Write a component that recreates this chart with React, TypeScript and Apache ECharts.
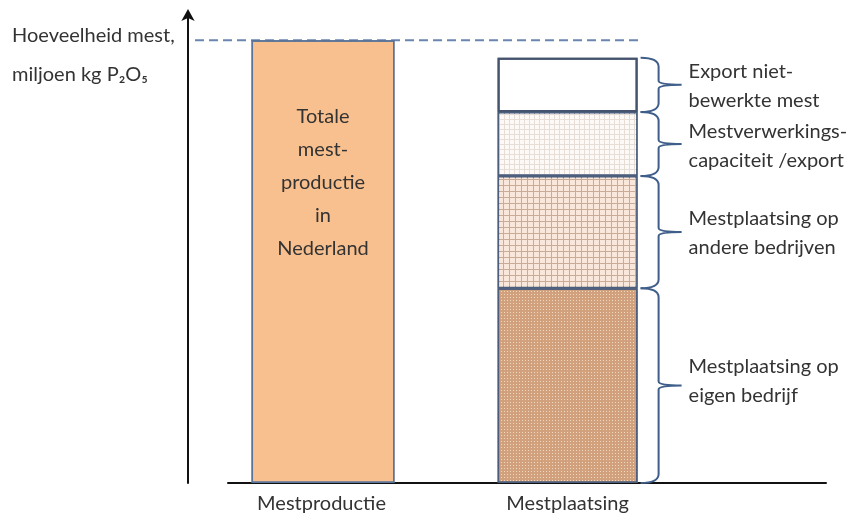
import React, { useEffect, useRef } from "react";
import * as echarts from "echarts";

// ---- data ----
const categories = ["Mestproductie", "Mestplaatsing"];
const categoryPositions = [1, 2];
const productionValues = [100];
const productionLabel = "Totale\nmest-\nproductie\nin\nNederland";
const segmentNames = [
  "Mestplaatsing op eigen bedrijf",
  "Mestplaatsing op andere bedrijven",
  "Mestverwerkingscapaciteit /export",
  "Export niet-bewerkte mest",
];
const segmentLabels = [
  "Mestplaatsing op\neigen bedrijf",
  "Mestplaatsing op\nandere bedrijven",
  "Mestverwerkings-\ncapaciteit /export",
  "Export niet-\nbewerkte mest",
];
const segmentValues = [44, 25.3, 14.5, 12.2];
const axisTitle = "Hoeveelheid mest,\nmiljoen kg P₂O₅";
const dashedLineRange = [0.486, 2.287];

// ---- styles ----
const FONT = "Lato, 'Open Sans', sans-serif";
const TEXT = "#333333";
const FS = 20;
const BAR1_WIDTH = 143;
const BAR2_WIDTH = 140;
const BRACE = "#3F5E8A";

const noDecal = { symbol: "rect", symbolSize: 1, rotation: 0, color: "rgba(0,0,0,0)" };
const segmentStyles = [
  {
    color: "#D1A07C",
    borderColor: "#4B5E7E",
    borderWidth: 1.5,
    decal: { symbol: "rect", symbolSize: 1, rotation: 0, dashArrayX: [1, 2], dashArrayY: [1, 2], color: "rgba(242,218,195,0.95)" },
  },
  {
    color: "#C8AC98",
    borderColor: "#4B5E7E",
    borderWidth: 1.5,
    decal: { symbol: "rect", symbolSize: 1, rotation: 0, dashArrayX: [5, 1], dashArrayY: [5, 1], color: "#F8E7DA" },
  },
  {
    color: "#E6DDD7",
    borderColor: "#4B5E7E",
    borderWidth: 1.5,
    decal: { symbol: "rect", symbolSize: 1, rotation: 0, dashArrayX: [4, 1], dashArrayY: [4, 1], color: "#FDF9F6" },
  },
  {
    color: "#FFFFFF",
    borderColor: "#44546E",
    borderWidth: 2,
    decal: noDecal,
  },
];
const labelOffsets = [[0, -6], [0, -1], [0, 1], [0, 0]];

export default function App() {
  const ref = useRef<HTMLDivElement>(null);
  useEffect(() => {
    if (!ref.current) return;
    const chart = echarts.init(ref.current, null, { renderer: "svg" });

    const cum: number[] = [];
    let acc = 0;
    segmentValues.forEach((v) => {
      cum.push(acc);
      acc += v;
    });
    const braceData = segmentValues.map((v, i) => [categoryPositions[1], cum[i], cum[i] + v]);

    const segmentSeries = segmentValues.map((v, i) => ({
      name: segmentNames[i],
      type: "bar",
      stack: "plaatsing",
      barWidth: BAR2_WIDTH,
      barGap: "-100%",
      encode: { x: 1, y: 0 },
      data: [[v, categoryPositions[1]]],
      itemStyle: segmentStyles[i],
      label: {
        show: true,
        position: "right",
        distance: 51,
        offset: labelOffsets[i],
        formatter: segmentLabels[i],
        fontFamily: FONT,
        fontSize: FS,
        lineHeight: 29,
        color: TEXT,
        align: "left",
      },
      emphasis: { disabled: true },
    }));

    const option: any = {
      animation: false,
      aria: { enabled: true, decal: { show: true } },
      textStyle: { fontFamily: FONT },
      title: {
        text: axisTitle,
        left: 12,
        top: 14,
        padding: 0,
        textStyle: { fontFamily: FONT, fontSize: FS, fontWeight: "normal", color: TEXT, lineHeight: 39 },
      },
      grid: { left: 228, right: 20, top: 18, bottom: 32, containLabel: false },
      xAxis: {
        type: "value",
        min: 0.62,
        max: 3.05,
        splitLine: { show: false },
        axisTick: { show: false },
        axisLine: { show: true, onZero: false, lineStyle: { color: "#111", width: 2 } },
        axisLabel: {
          customValues: categoryPositions,
          formatter: (v: number) => {
            const i = categoryPositions.indexOf(Math.round(v * 100) / 100);
            return i >= 0 ? categories[i] : "";
          },
          fontFamily: FONT,
          fontSize: FS,
          color: TEXT,
          margin: 9,
        },
      },
      yAxis: {
        type: "value",
        min: 0,
        max: 105,
        offset: 40,
        splitLine: { show: false },
        axisTick: { show: false },
        axisLabel: { show: false },
        axisLine: {
          show: true,
          symbol: ["none", "arrow"],
          symbolSize: [10, 12],
          symbolOffset: [0, 9],
          lineStyle: { color: "#111", width: 2 },
        },
      },
      series: [
        {
          name: categories[0],
          type: "bar",
          barWidth: BAR1_WIDTH,
          barGap: "-100%",
          data: productionValues.map((v) => [categoryPositions[0], v]),
          itemStyle: {
            color: "#F9C08F",
            borderColor: "#5A7398",
            borderWidth: 1.5,
            decal: noDecal,
          },
          label: {
            show: true,
            position: ["50%", 58],
            align: "center",
            verticalAlign: "top",
            formatter: productionLabel,
            fontFamily: FONT,
            fontSize: FS,
            lineHeight: 33,
            color: TEXT,
          },
          emphasis: { disabled: true },
        },
        ...segmentSeries,
        {
          name: "referentielijn",
          type: "custom",
          clip: false,
          silent: true,
          itemStyle: { decal: noDecal },
          encode: { x: [0, 1], y: 2 },
          data: [[dashedLineRange[0], dashedLineRange[1], productionValues[0]]],
          renderItem: (params: any, api: any) => {
            const a = api.coord([api.value(0), api.value(2)]);
            const b = api.coord([api.value(1), api.value(2)]);
            return {
              type: "line",
              shape: { x1: a[0], y1: a[1], x2: b[0], y2: b[1] },
              style: { stroke: "#6A86AE", lineWidth: 2, lineDash: [9, 5] },
            };
          },
        },
        {
          name: "accolades",
          type: "custom",
          clip: false,
          silent: true,
          itemStyle: { decal: noDecal },
          encode: { x: 0, y: [1, 2] },
          data: braceData,
          renderItem: (params: any, api: any) => {
            const xv = api.value(0);
            const lo = api.value(1);
            const hi = api.value(2);
            const pB = api.coord([xv, lo]);
            const pT = api.coord([xv, hi]);
            const right = pB[0] + BAR2_WIDTH / 2;
            const x0 = right + 3;
            const xl = right + 21;
            const xt = right + 44;
            const yT = pT[1];
            const yB = pB[1];
            const ym = (yT + yB) / 2;
            const r = Math.min(9, (yB - yT) / 4);
            const d =
              `M${x0} ${yT} Q${xl} ${yT} ${xl} ${yT + r} L${xl} ${ym - 4} ` +
              `Q${xl} ${ym} ${xt} ${ym} Q${xl} ${ym} ${xl} ${ym + 4} ` +
              `L${xl} ${yB - r} Q${xl} ${yB} ${x0} ${yB}`;
            return {
              type: "path",
              shape: { pathData: d },
              style: { fill: "none", stroke: BRACE, lineWidth: 2 },
            };
          },
        },
      ],
    };
    chart.setOption(option);
    return () => chart.dispose();
  }, []);
  return <div ref={ref} style={{ position: "fixed", left: 0, top: 0, width: 846, height: 515 }} />;
}
